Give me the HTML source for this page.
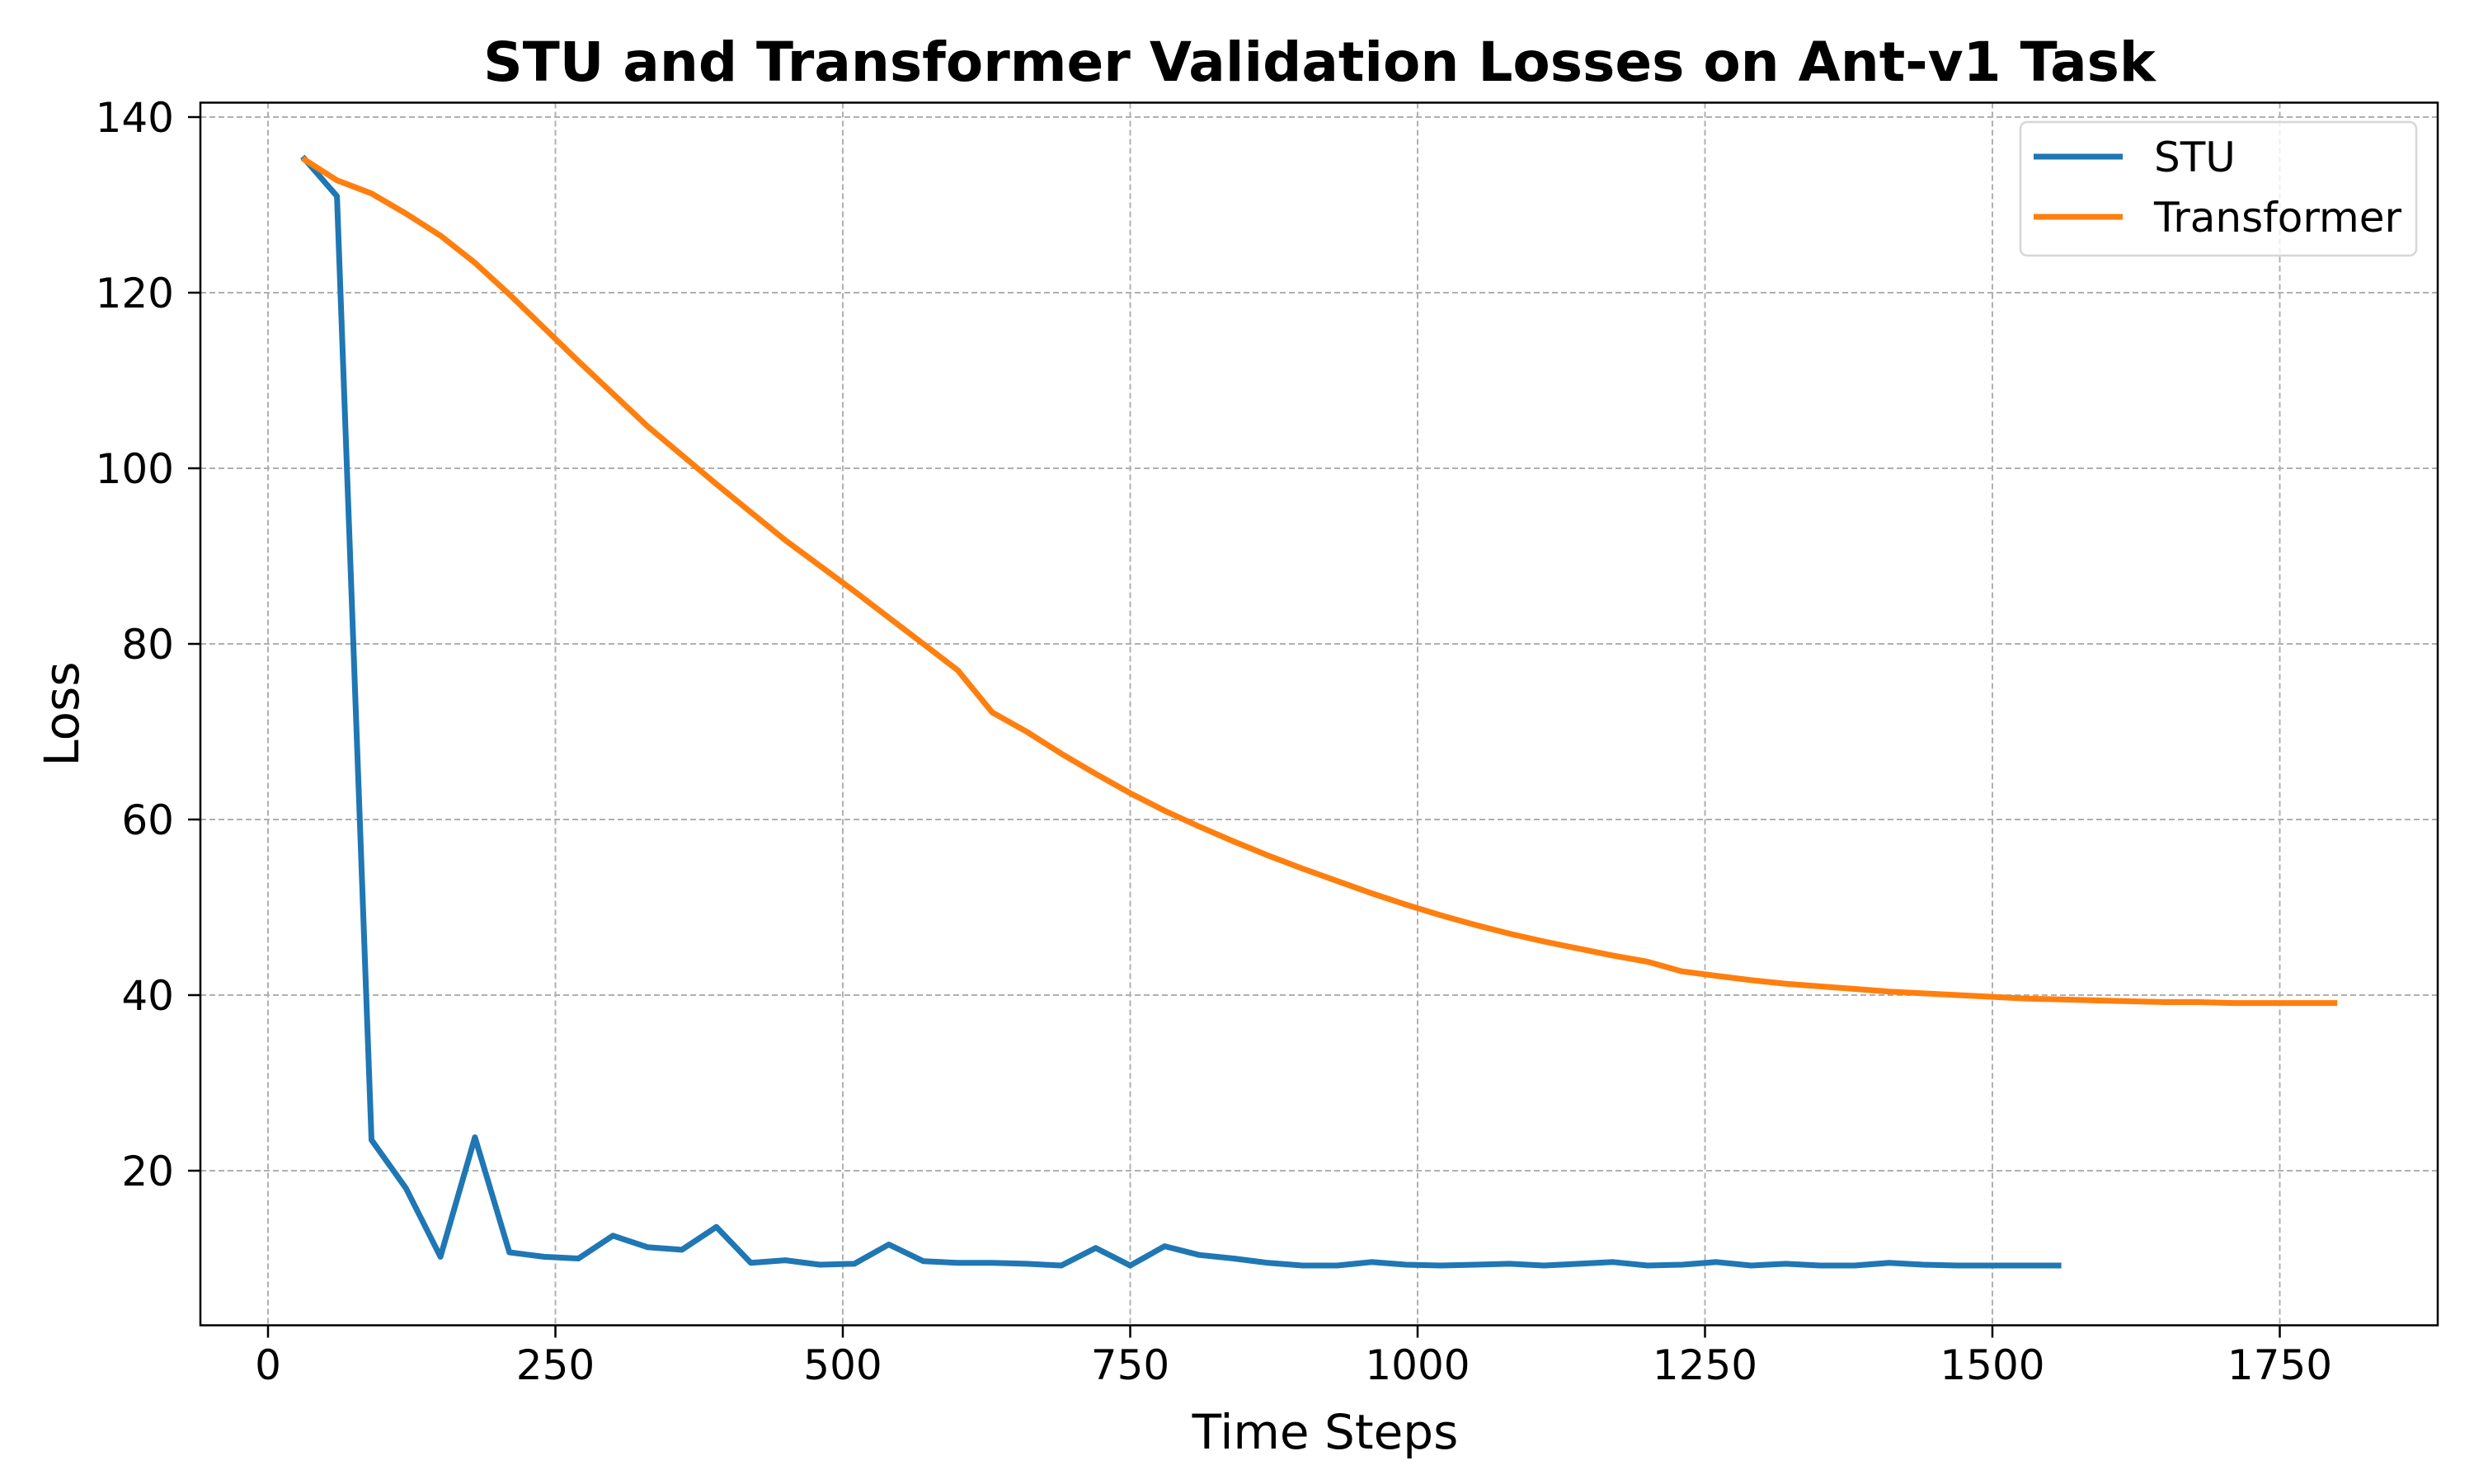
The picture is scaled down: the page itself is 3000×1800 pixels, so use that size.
<!DOCTYPE html>
<html><head><meta charset="utf-8"><style>
html,body{margin:0;padding:0;background:#fff;}
svg{display:block;font-family:"DejaVu Sans","Liberation Sans",sans-serif;}
</style></head><body>
<svg id="chart" width="3000" height="1800" xmlns="http://www.w3.org/2000/svg">
<rect width="3000" height="1800" fill="#fff"/>
<g id="grid"></g>
<g id="series"></g>
<rect x="243" y="124.5" width="2713" height="1483" fill="none" stroke="#000" stroke-width="2.5"/>
<g id="ticks"></g>
<text x="1600" y="98" text-anchor="middle" font-size="66" font-weight="bold">STU and Transformer Validation Losses on Ant-v1 Task</text>
<text x="1607" y="1757" text-anchor="middle" font-size="58">Time Steps</text>
<text transform="translate(95,866) rotate(-90)" text-anchor="middle" font-size="58">Loss</text>
<g>
<rect x="2450" y="148" width="480" height="162" rx="8" fill="#fff" fill-opacity="0.8" stroke="#d6d6d6" stroke-width="2.5"/>
<line x1="2466" y1="190" x2="2574" y2="190" stroke="#1f77b4" stroke-width="7"/>
<text x="2612" y="208" font-size="50">STU</text>
<line x1="2466" y1="263" x2="2574" y2="263" stroke="#ff7f0e" stroke-width="7"/>
<text x="2612" y="281" font-size="50">Transformer</text>
</g>
</svg>
<script>
const stuSteps = [30,60,90,120,150,180,210,240,270,300,330,360,390,420,450,480,510,540,570,600,630,660,690,720,750,780,810,840,870,900,930,960,990,1020,1050,1080,1110,1140,1170,1200,1230,1260,1290,1320,1350,1380,1410,1440,1470,1500,1530,1560];
const stuLoss = [135.5,131,23.5,18,10.2,23.8,10.7,10.2,10,12.6,11.3,11,13.6,9.5,9.8,9.3,9.4,11.6,9.7,9.5,9.5,9.4,9.2,11.2,9.2,11.4,10.4,10,9.5,9.2,9.2,9.6,9.3,9.2,9.3,9.4,9.2,9.4,9.6,9.2,9.3,9.6,9.2,9.4,9.2,9.2,9.5,9.3,9.2,9.2,9.2,9.2];
const trSteps = [30,60,90,120,150,180,210,240,270,300,330,360,390,420,450,480,510,540,570,600,630,660,690,720,750,780,810,840,870,900,930,960,990,1020,1050,1080,1110,1140,1170,1200,1230,1260,1290,1320,1350,1380,1410,1440,1470,1500,1530,1560,1590,1620,1650,1680,1710,1740,1770,1800];
const trLoss = [135.3,132.8,131.3,129,126.5,123.4,119.8,116,112.2,108.5,104.8,101.5,98.2,95,91.8,88.9,86,83,80,77,72.2,70,67.5,65.2,63,61,59.2,57.5,55.9,54.4,53,51.6,50.3,49.1,48,47,46.1,45.3,44.5,43.8,42.7,42.2,41.7,41.3,41,40.7,40.4,40.2,40,39.8,39.6,39.5,39.4,39.3,39.2,39.2,39.1,39.1,39.1,39.1];
const xTicks = [0,250,500,750,1000,1250,1500,1750];
const yTicks = [20,40,60,80,100,120,140];

const X0=243,X1=2956,Y0=124.5,Y1=1607.5;
function sx(v){return 325 + v*1.394;}
function sy(v){return 142 + (140-v)*10.65;}
const NS='http://www.w3.org/2000/svg';
function mk(tag,attrs,parent){const e=document.createElementNS(NS,tag);for(const k in attrs)e.setAttribute(k,attrs[k]);parent.appendChild(e);return e;}
const grid=document.getElementById('grid'),ticks=document.getElementById('ticks'),series=document.getElementById('series');
xTicks.forEach(t=>{
  const x=sx(t);
  const g=mk('line',{x1:x,y1:Y0,x2:x,y2:Y1,stroke:'#b0b0b0','stroke-width':2,'stroke-dasharray':'7,4'},grid);
  
  
  const tk=mk('line',{x1:x,y1:Y1,x2:x,y2:Y1+15,stroke:'#000','stroke-width':2.5},ticks);
  
  
  const lb=mk('text',{x:x,y:1673,'text-anchor':'middle','font-size':50},ticks);
  lb.textContent=t;
  
  
});
yTicks.forEach(t=>{
  const y=sy(t);
  const g=mk('line',{x1:X0,y1:y,x2:X1,y2:y,stroke:'#b0b0b0','stroke-width':2,'stroke-dasharray':'7,4'},grid);
  
  
  const tk=mk('line',{x1:X0-15,y1:y,x2:X0,y2:y,stroke:'#000','stroke-width':2.5},ticks);
  
  
  const lb=mk('text',{x:211,y:y+18,'text-anchor':'end','font-size':50},ticks);
  lb.textContent=t;
  
  
});
function pts(xs,ys){return xs.map((x,i)=>sx(x).toFixed(1)+','+sy(ys[i]).toFixed(1)).join(' ');}
const stu=mk('polyline',{points:pts(stuSteps,stuLoss),fill:'none',stroke:'#1f77b4','stroke-width':7,'stroke-linejoin':'round'},series);


const tr=mk('polyline',{points:pts(trSteps,trLoss),fill:'none',stroke:'#ff7f0e','stroke-width':7,'stroke-linejoin':'round'},series);


</script>
</body></html>
